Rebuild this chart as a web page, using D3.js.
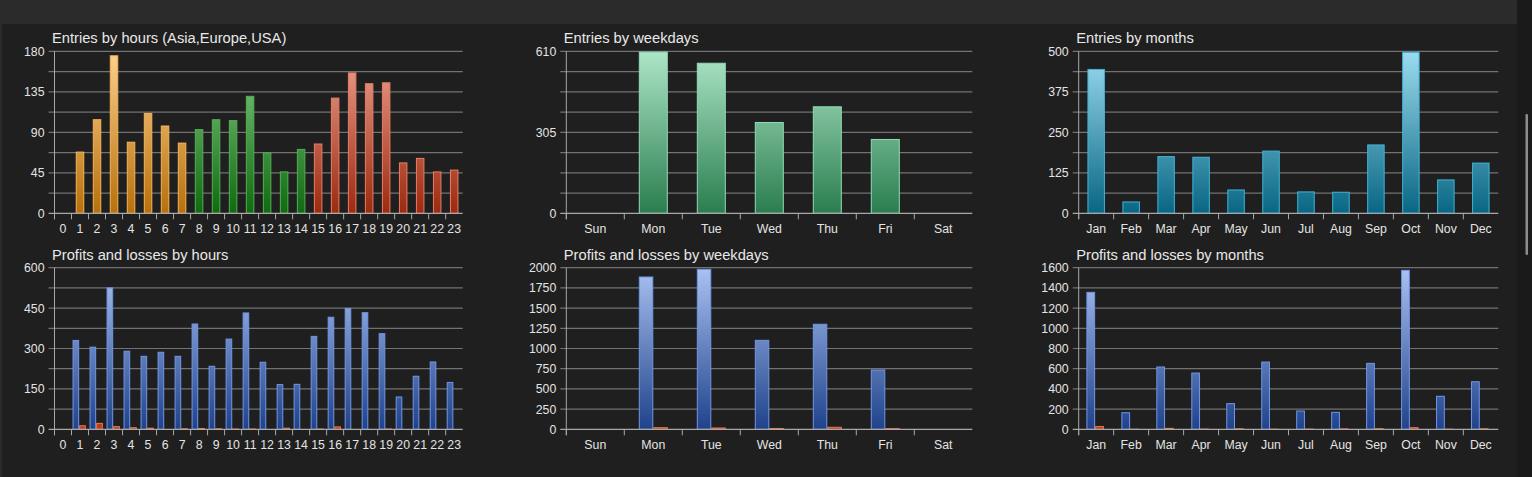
<!DOCTYPE html>
<html>
<head>
<meta charset="utf-8">
<script src="https://cdn.jsdelivr.net/npm/d3@7"></script>
<style>
  html, body { margin: 0; padding: 0; background: #1f1f1f; overflow: hidden; }
  svg { display: block; font-family: "Liberation Sans", Arial, sans-serif; }
</style>
</head>
<body>
<div class="chart"></div>
<script>
// categories
const hourLabels = ["0", "1", "2", "3", "4", "5", "6", "7", "8", "9", "10", "11",
  "12", "13", "14", "15", "16", "17", "18", "19", "20", "21", "22", "23"];
const hourRegions = ["asia", "asia", "asia", "asia", "asia", "asia", "asia", "asia",
  "europe", "europe", "europe", "europe", "europe", "europe", "europe",
  "usa", "usa", "usa", "usa", "usa", "usa", "usa", "usa", "usa"];
const weekdayLabels = ["Sun", "Mon", "Tue", "Wed", "Thu", "Fri", "Sat"];
const monthLabels = ["Jan", "Feb", "Mar", "Apr", "May", "Jun", "Jul", "Aug", "Sep", "Oct", "Nov", "Dec"];

// entries
const entriesByHour = [0, 68, 104, 175, 79, 111, 97, 78, 93, 104, 103, 130, 67, 46, 71, 77, 128, 156, 144, 145, 56, 61, 46, 48];
const entriesByWeekday = [0, 607, 565, 342, 401, 278, 0];
const entriesByMonth = [444, 35, 175, 173, 72, 192, 66, 65, 211, 497, 103, 155];

// profits and losses
const profitsByHour = [0, 330, 305, 525, 290, 271, 286, 271, 391, 234, 335, 432, 249, 166, 167, 345, 416, 449, 433, 355, 120, 197, 250, 174];
const lossesByHour = [0, 13, 22, 10, 6, 4, 0, 2, 3, 2, 1, 1, 0, 4, 0, 1, 9, 0, 0, 1, 0, 0, 0, 0];
const profitsByWeekday = [0, 1885, 1980, 1101, 1300, 734, 0];
const lossesByWeekday = [0, 20, 16, 10, 25, 8, 0];
const profitsByMonth = [1356, 164, 617, 557, 254, 666, 181, 168, 653, 1574, 327, 471];
const lossesByMonth = [27, 1, 9, 2, 5, 1, 2, 4, 6, 16, 1, 5];

// y tick labels
const entriesHourTicks = [0, 45, 90, 135, 180];
const entriesWeekdayTicks = [0, 305, 610];
const entriesMonthTicks = [0, 125, 250, 375, 500];
const plHourTicks = [0, 150, 300, 450, 600];
const plWeekdayTicks = [0, 250, 500, 750, 1000, 1250, 1500, 1750, 2000];
const plMonthTicks = [0, 200, 400, 600, 800, 1000, 1200, 1400, 1600];

const width = 1532;
const height = 477;

const rows = [
  { top: 51.3, zero: 213.3 },
  { top: 267.7, zero: 429.3 }
];
const cols = [
  { x0: 54.5, x1: 462.7 },
  { x0: 566.3, x1: 972.3 },
  { x0: 1078.7, x1: 1498.3 }
];

const svg = d3.select(".chart")
  .append("svg")
  .attr("width", width)
  .attr("height", height);

// page frame
svg.append("rect").attr("width", width).attr("height", height).attr("fill", "#1f1f1f");
svg.append("rect").attr("width", 1517).attr("height", 24).attr("fill", "#2b2b2b");
svg.append("rect").attr("width", 2).attr("height", height).attr("fill", "#2b2b2b");
svg.append("rect").attr("x", 1517).attr("width", 15).attr("height", height).attr("fill", "#1a1a1a");
svg.append("rect").attr("x", 1525.5).attr("y", 114).attr("width", 2.5).attr("height", 141)
  .attr("rx", 1).attr("fill", "#8c8c8c");

// gradients (top of plot -> zero line)
const defs = svg.append("defs");
const gradients = [
  { id: "asia", row: 0, top: "#fdd190", bottom: "#b8700a" },
  { id: "europe", row: 0, top: "#86cc86", bottom: "#0f6a10" },
  { id: "usa", row: 0, top: "#eea090", bottom: "#9c2a0e" },
  { id: "weekday", row: 0, top: "#ade6c8", bottom: "#2a7d4e" },
  { id: "month", row: 0, top: "#9cdcef", bottom: "#086684" },
  { id: "profit", row: 1, top: "#aac2f2", bottom: "#1f428c" },
  { id: "loss", row: 1, top: "#f07a58", bottom: "#b83a1c" }
];
gradients.forEach((gr) => {
  const lg = defs.append("linearGradient")
    .attr("id", "g-" + gr.id)
    .attr("gradientUnits", "userSpaceOnUse")
    .attr("x1", 0).attr("x2", 0)
    .attr("y1", rows[gr.row].top).attr("y2", rows[gr.row].zero);
  lg.append("stop").attr("offset", "0%").attr("stop-color", gr.top);
  lg.append("stop").attr("offset", "100%").attr("stop-color", gr.bottom);
});

const strokes = {
  asia: "#f5b45a",
  europe: "#52b052",
  usa: "#e87c68",
  weekday: "#8fdcb4",
  month: "#3fb4d8",
  profit: "#7096e6",
  loss: "#f07850"
};

const panels = [
  { title: "Entries by hours (Asia,Europe,USA)", row: 0, col: 0, cats: hourLabels, ticks: entriesHourTicks, gridDiv: 8,
    series: [{ values: entriesByHour, color: (d, i) => hourRegions[i] }], span: [0.25, 0.75] },
  { title: "Entries by weekdays", row: 0, col: 1, cats: weekdayLabels, ticks: entriesWeekdayTicks, gridDiv: 8,
    series: [{ values: entriesByWeekday, color: () => "weekday" }], span: [0.25, 0.75] },
  { title: "Entries by months", row: 0, col: 2, cats: monthLabels, ticks: entriesMonthTicks, gridDiv: 8,
    series: [{ values: entriesByMonth, color: () => "month" }], span: [0.25, 0.75] },
  { title: "Profits and losses by hours", row: 1, col: 0, cats: hourLabels, ticks: plHourTicks, gridDiv: 8,
    series: [{ values: profitsByHour, color: () => "profit" }, { values: lossesByHour, color: () => "loss" }], span: [0.06, 0.84] },
  { title: "Profits and losses by weekdays", row: 1, col: 1, cats: weekdayLabels, ticks: plWeekdayTicks, gridDiv: 8,
    series: [{ values: profitsByWeekday, color: () => "profit" }, { values: lossesByWeekday, color: () => "loss" }], span: [0.25, 0.75] },
  { title: "Profits and losses by months", row: 1, col: 2, cats: monthLabels, ticks: plMonthTicks, gridDiv: 8,
    series: [{ values: profitsByMonth, color: () => "profit" }, { values: lossesByMonth, color: () => "loss" }], span: [0.22, 0.72] }
];

panels.forEach((p) => {
  const { top, zero } = rows[p.row];
  const { x0, x1 } = cols[p.col];
  const max = d3.max(p.ticks);
  const g = svg.append("g");

  const x = d3.scaleBand().domain(p.cats).range([x0, x1]);
  const y = d3.scaleLinear().domain([0, max]).range([zero, top]);
  const bw = x.bandwidth();
  const inner = d3.scaleBand()
    .domain(d3.range(p.series.length))
    .range([bw * p.span[0], bw * p.span[1]]);

  // title
  g.append("text")
    .attr("x", x0 - 2.5)
    .attr("y", top - 8)
    .attr("fill", "#e8e8e8")
    .attr("font-size", 14.7)
    .text(p.title);

  // grid lines
  g.append("g")
    .selectAll("line")
    .data(d3.range(1, p.gridDiv + 1).map((i) => (max * i) / p.gridDiv))
    .join("line")
    .attr("x1", x0 - 6)
    .attr("x2", x1)
    .attr("y1", (d) => y(d))
    .attr("y2", (d) => y(d))
    .attr("stroke", "#727272")
    .attr("stroke-width", 1.2);

  // bars
  p.series.forEach((s, si) => {
    g.append("g")
      .selectAll("rect")
      .data(s.values.map((v, i) => ({ v, i })).filter((d) => d.v > 0))
      .join("rect")
      .attr("x", (d) => x(p.cats[d.i]) + inner(si) + 0.5)
      .attr("width", inner.bandwidth() - 1)
      .attr("y", (d) => y(d.v))
      .attr("height", (d) => zero - y(d.v))
      .attr("fill", (d) => `url(#g-${s.color(d, d.i)})`)
      .attr("stroke", (d) => strokes[s.color(d, d.i)])
      .attr("stroke-width", 1);
  });

  // axis lines
  g.append("line")
    .attr("x1", x0).attr("x2", x0)
    .attr("y1", top).attr("y2", zero + 6)
    .attr("stroke", "#a8a8a8");
  g.append("line")
    .attr("x1", x0 - 6).attr("x2", x1)
    .attr("y1", zero).attr("y2", zero)
    .attr("stroke", "#a8a8a8")
    .attr("stroke-width", 1.2);

  // x ticks on band boundaries
  g.append("g")
    .selectAll("line")
    .data(p.cats)
    .join("line")
    .attr("x1", (d) => x(d)).attr("x2", (d) => x(d))
    .attr("y1", zero).attr("y2", zero + 6)
    .attr("stroke", "#a8a8a8");

  // y labels
  const yAxis = g.append("g")
    .attr("transform", `translate(${x0},0)`)
    .call(d3.axisLeft(y).tickValues(p.ticks).tickFormat(d3.format("d")).tickSize(0).tickPadding(10));
  yAxis.select(".domain").remove();

  // x labels
  const xAxis = g.append("g")
    .attr("transform", `translate(0,${zero})`)
    .call(d3.axisBottom(x).tickSize(0).tickPadding(10.5));
  xAxis.select(".domain").remove();

  g.selectAll(".tick text")
    .attr("fill", "#e4e4e4")
    .attr("font-size", 12.3)
    .attr("font-family", "Liberation Sans, Arial, sans-serif");
});
</script>
</body>
</html>
